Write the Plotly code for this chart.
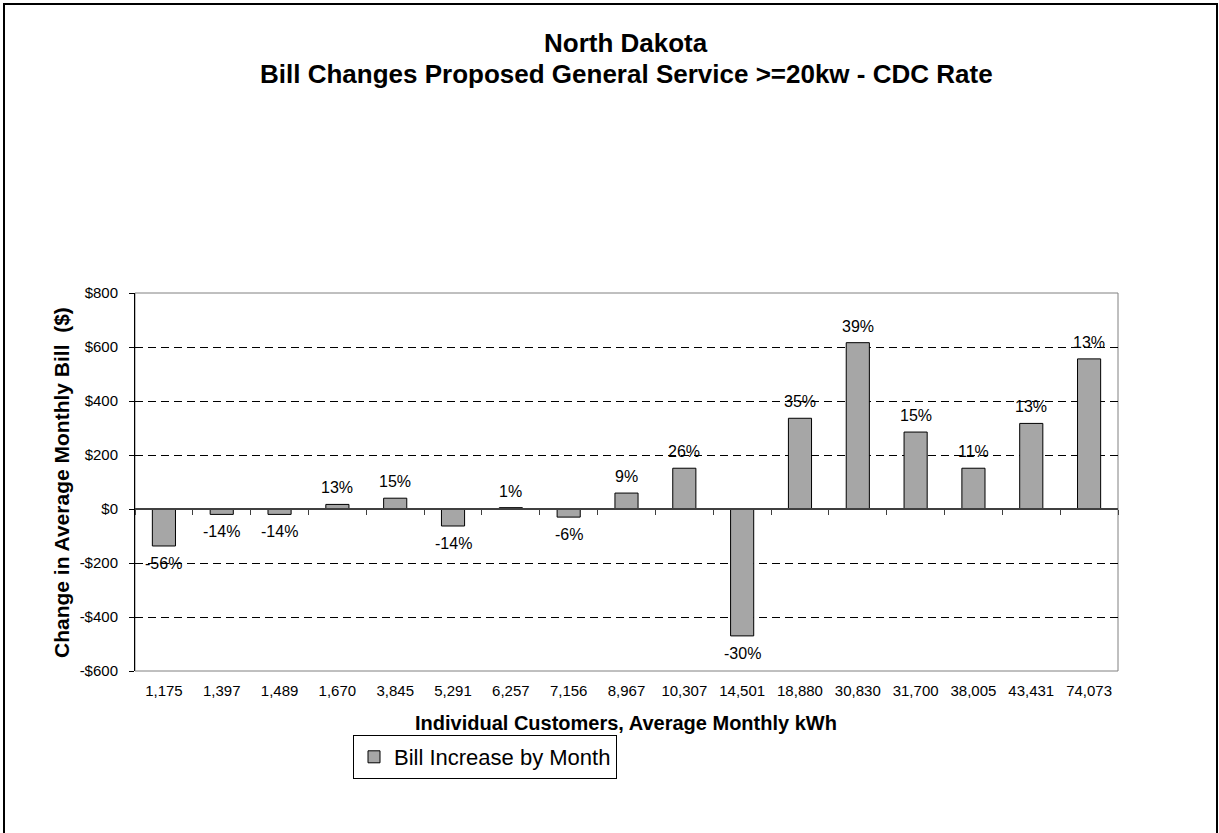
import plotly.graph_objects as go

categories = ["1,175", "1,397", "1,489", "1,670", "3,845", "5,291", "6,257", "7,156", "8,967",
              "10,307", "14,501", "18,880", "30,830", "31,700", "38,005", "43,431", "74,073"]
bill_change = [-137, -20, -20, 17, 40, -63, 5, -30, 59, 151, -470, 336, 616, 285, 151, 317, 556]
pct_labels = ["-56%", "-14%", "-14%", "13%", "15%", "-14%", "1%", "-6%", "9%", "26%", "-30%",
              "35%", "39%", "15%", "11%", "13%", "13%"]
y_ticks = [-600, -400, -200, 0, 200, 400, 600, 800]
y_tick_text = ["-$600", "-$400", "-$200", "$0", "$200", "$400", "$600", "$800"]

W, H = 1219, 833
L, R, T, B = 135, 101, 293, 162
pw, ph = W - L - R, H - T - B
FONT = "Liberation Sans, Arial, sans-serif"


def px_x(x):
    return (x - L) / pw


def px_y(y):
    return (H - B - y) / ph


fig = go.Figure()
fig.add_trace(go.Bar(
    x=categories, y=bill_change, name="Bill Increase by Month",
    marker=dict(color="#A6A6A6", line=dict(color="black", width=1)),
    showlegend=True,
))
# transparent trace on an overlay axis that draws the category axis line at $0
fig.add_trace(go.Bar(x=categories, y=[0] * len(categories), xaxis="x2", showlegend=False,
                     marker=dict(color="rgba(0,0,0,0)"), hoverinfo="skip"))

# percentage labels placed at each bar end, offset away from the bar
label_annotations = [
    dict(x=c, y=v, xref="x", yref="y", text=t, showarrow=False,
         yanchor="bottom" if v >= 0 else "top", yshift=6 if v >= 0 else -7,
         font=dict(family=FONT, size=16, color="black"))
    for c, v, t in zip(categories, bill_change, pct_labels)
]

zero_pos = (0 - (-600)) / 1400

fig.update_layout(
    width=W, height=H,
    margin=dict(l=L, r=R, t=T, b=B),
    paper_bgcolor="white", plot_bgcolor="white",
    bargap=0.6,
    xaxis=dict(
        type="category", showline=False, ticks="", showgrid=False, zeroline=False,
        tickfont=dict(family=FONT, size=15, color="black"), ticklabelstandoff=9,
    ),
    xaxis2=dict(
        type="category", overlaying="x", anchor="free", position=zero_pos, matches="x",
        showline=True, linecolor="#404040", linewidth=1.5,
        ticks="outside", ticklen=5, tickcolor="#404040", tickson="boundaries",
        showticklabels=False, showgrid=False, zeroline=False,
    ),
    yaxis=dict(
        range=[-600, 800], tickvals=y_ticks, ticktext=y_tick_text,
        showline=True, linecolor="black", linewidth=1,
        ticks="outside", ticklen=5, tickcolor="black", ticklabelstandoff=8,
        showgrid=True, gridcolor="black", gridwidth=1, griddash="8px,5px",
        zeroline=False,
        tickfont=dict(family=FONT, size=15, color="black"),
    ),
    legend=dict(
        x=px_x(353), y=px_y(757), xanchor="left", yanchor="middle",
        bordercolor="black", borderwidth=1, bgcolor="white",
        font=dict(family=FONT, size=22, color="black"),
        itemwidth=30, tracegroupgap=0,
    ),
    annotations=label_annotations + [
        dict(text="<b>North Dakota</b>", xref="paper", yref="paper",
             x=px_x(626), y=px_y(60), xanchor="center", yanchor="bottom", showarrow=False,
             font=dict(family=FONT, size=26, color="black")),
        dict(text="<b>Bill Changes Proposed General Service >=20kw - CDC Rate</b>",
             xref="paper", yref="paper",
             x=px_x(626), y=px_y(91), xanchor="center", yanchor="bottom", showarrow=False,
             font=dict(family=FONT, size=26, color="black")),
        dict(text="<b>Change in Average Monthly Bill &nbsp;($)</b>", xref="paper", yref="paper",
             x=px_x(61), y=px_y(483), xanchor="center", yanchor="middle", textangle=-90,
             showarrow=False, font=dict(family=FONT, size=21, color="black")),
        dict(text="<b>Individual Customers, Average Monthly kWh</b>", xref="paper", yref="paper",
             x=px_x(626), y=px_y(723), xanchor="center", yanchor="middle",
             showarrow=False, font=dict(family=FONT, size=20, color="black")),
    ],
    shapes=[
        # plot area border (gray)
        dict(type="rect", xref="paper", yref="paper", x0=0, x1=1, y0=0, y1=1,
             line=dict(color="#808080", width=1), layer="below"),
        # outer chart border
        dict(type="rect", xref="paper", yref="paper",
             x0=px_x(4), x1=px_x(1217), y0=px_y(840), y1=px_y(4),
             line=dict(color="black", width=2)),
    ],
)

fig.write_html("out.html")
